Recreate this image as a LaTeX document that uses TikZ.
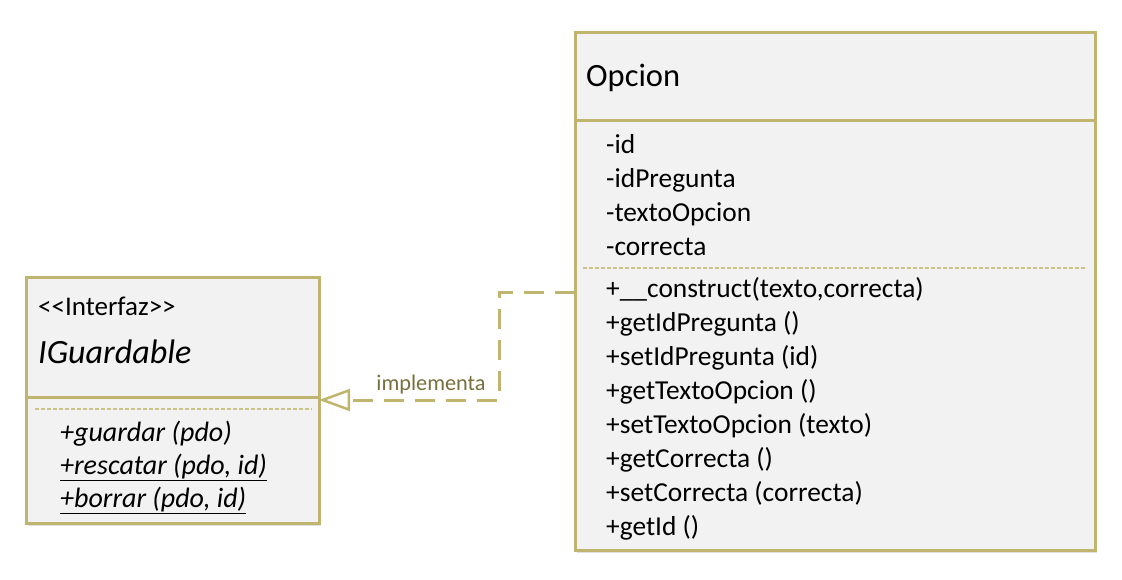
\documentclass[tikz,border=0pt]{standalone}
\usepackage{fontspec}
\setmainfont{Carlito}
\usetikzlibrary{arrows.meta,positioning,shadows}
\definecolor{Khaki}{HTML}{BFB56F}
\definecolor{PaleKhaki}{HTML}{CCC387}
\definecolor{PaleGray}{HTML}{F2F2F2}
\definecolor{OliveText}{HTML}{77703D}

\begin{document}
\begin{tikzpicture}[x=1pt,y=-1pt,
  part/.style={draw=Khaki,line width=3pt,fill=PaleGray,inner sep=0pt,outer sep=0pt},
  body/.style={part,drop shadow={shadow xshift=2pt,shadow yshift=-3pt,fill=black,opacity=0.12}},
  title/.style={anchor=base west,inner sep=0pt,font=\fontsize{32.5}{40}\selectfont},
  member/.style={anchor=base west,inner sep=0pt,font=\fontsize{27.4}{34}\selectfont},
  oper/.style={member,font=\fontsize{28}{34}\selectfont\itshape},
  sep/.style={draw=PaleKhaki,line width=2.2pt,dash pattern=on 4pt off 2pt},
  realiza/.style={draw=Khaki,line width=3pt,dash pattern=on 20pt off 11pt,
    -{Triangle[open,length=31pt,width=22pt,line width=2.5pt]}},
  lbl/.style={anchor=base,inner sep=0pt,text=OliveText,font=\fontsize{22.3}{26}\selectfont}
]
\useasboundingbox (0,0) rectangle (1122,580);

% Interface IGuardable.
\node[part,minimum width=293pt,minimum height=120pt] (ifHead) at (172.5,337) {};
\node[body,minimum width=293pt,minimum height=126pt] (ifBody) at (172.5,460) {};
\node[member,font=\fontsize{27}{34}\selectfont] (ifStereo) at (38,315) {<{}<Interfaz>{}>};
\node[title,font=\fontsize{34}{40}\selectfont\itshape] (ifName) at (38,363) {IGuardable};
\draw[sep] ([xshift=9pt,yshift=-12pt]ifBody.north west) -- ([xshift=-7pt,yshift=-12pt]ifBody.north east);
\node[oper] (ifM1) at (60,441) {+guardar (pdo)};
\node[oper] (ifM2) at (60,474) {\underline{+rescatar (pdo, id)}};
\node[oper] (ifM3) at (60,507) {\underline{+borrar (pdo, id)}};

% Class Opcion.
\node[part,minimum width=520pt,minimum height=88pt] (opHead) at (835,77) {};
\node[body,minimum width=520pt,minimum height=429pt] (opBody) at (835,335.5) {};
\node[title] (opName) at (586,86.5) {Opcion};
\foreach \txt [count=\i] in {-id,-idPregunta,-textoOpcion,-correcta}
  \node[member] (attr\i) at (606,153.5+34*\i-34) {\txt};
\draw[sep] ([xshift=8pt,yshift=-147pt]opBody.north west) -- ([xshift=-8pt,yshift=-147pt]opBody.north east);
\foreach \txt [count=\i] in {{+\_\_construct(texto,correcta)},+getIdPregunta (),
    +setIdPregunta (id),+getTextoOpcion (),+setTextoOpcion (texto),
    +getCorrecta (),+setCorrecta (correcta),+getId ()}
  \node[member] (meth\i) at (606,297+34*\i-34) {\txt};

% Realization.
\draw[realiza] ([yshift=-171pt]opBody.north west) -| (499,350) |- ([yshift=-3pt]ifBody.north east);
\node[lbl] (implLbl) at (431,390.5) {implementa};
\end{tikzpicture}
\end{document}
